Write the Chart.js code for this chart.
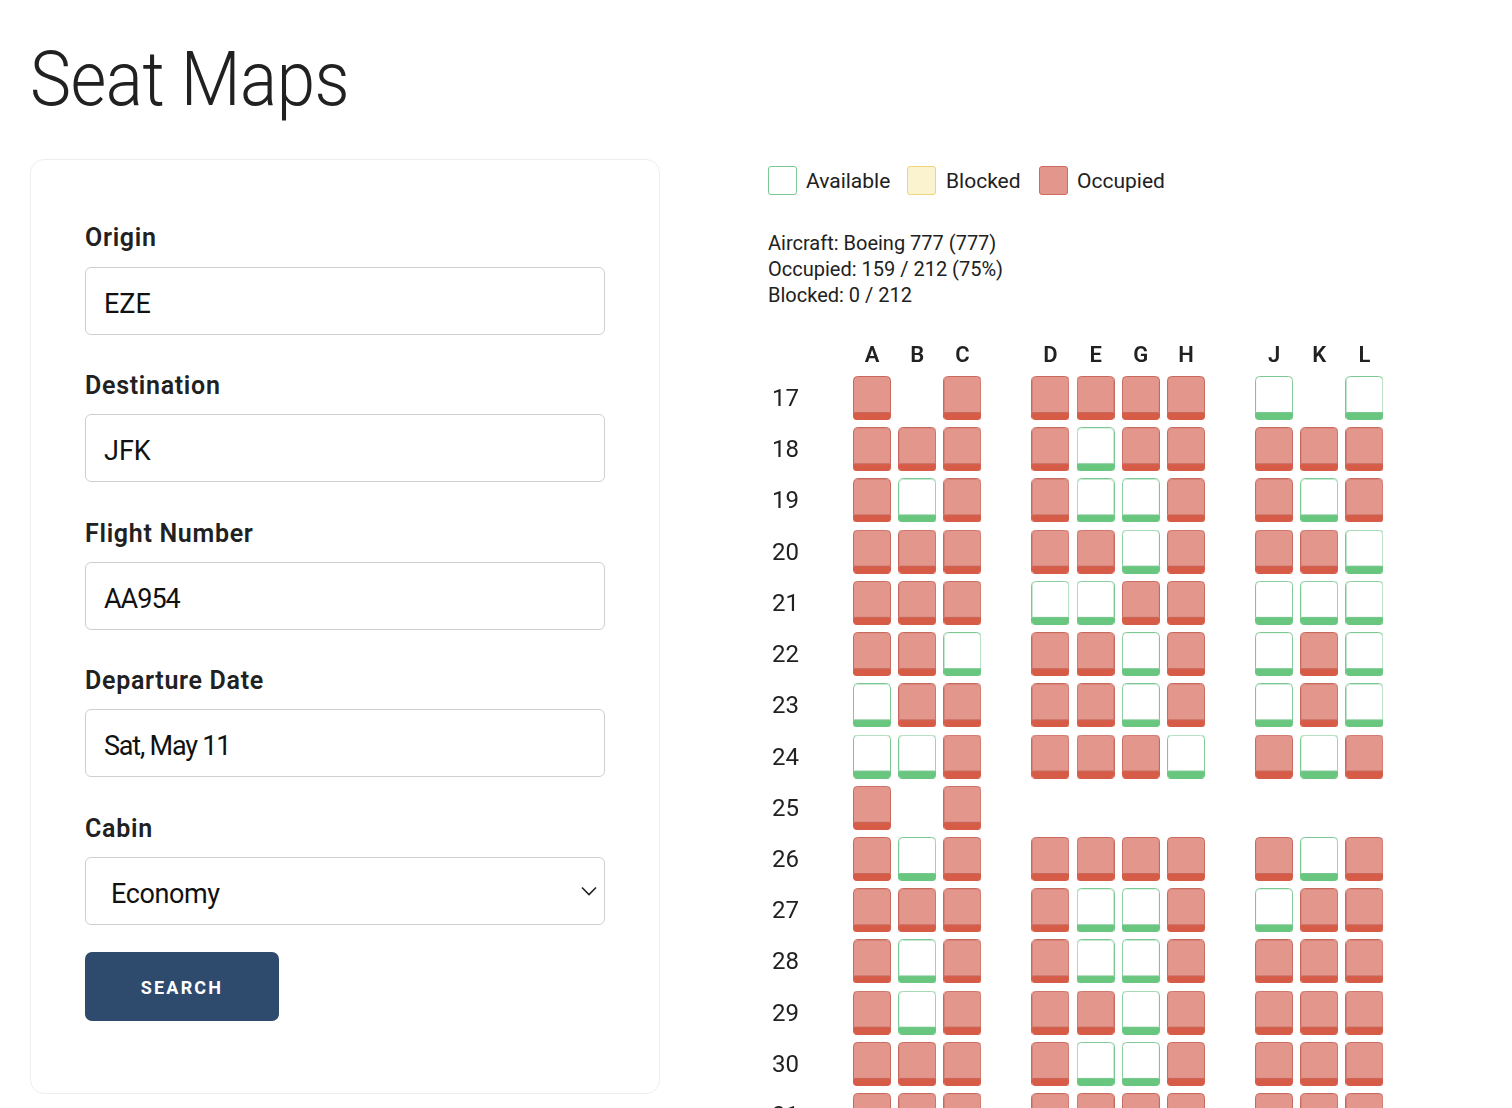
<!DOCTYPE html>
<html>

<head>
  <title>Seat Maps</title>
  <script src="https://cdn.jsdelivr.net/npm/chart.js"></script>
  <style>
    html, body {
      margin: 0;
      width: 1512px;
      height: 1108px;
      overflow: hidden;
      background: #fff;
      color: #212121;
      font-family: Roboto, sans-serif;
    }

    .abs { position: absolute; white-space: nowrap; }

    h1 {
      position: absolute;
      left: 30px;
      top: 34px;
      margin: 0;
      font-size: 76px;
      line-height: 90px;
      font-weight: 300;
      letter-spacing: -0.5px;
      transform: scaleX(0.91);
      transform-origin: left center;
    }

    .card {
      position: absolute;
      left: 30px;
      top: 159px;
      width: 628px;
      height: 933px;
      border: 1px solid #eeeeee;
      border-radius: 14px;
    }

    .label {
      position: absolute;
      left: 85px;
      font-size: 25px;
      line-height: 30px;
      font-weight: 600;
      letter-spacing: 0.7px;
    }

    .field {
      position: absolute;
      left: 85px;
      width: 518px;
      height: 66px;
      border: 1px solid #cfcfcf;
      border-radius: 6px;
      font-size: 27px;
      line-height: 72px;
      text-indent: 18px;
      color: #111;
    }

    .search {
      position: absolute;
      left: 85px;
      top: 952px;
      width: 194px;
      height: 69px;
      border-radius: 7px;
      background: #2e4a6d;
      color: #fff;
      font-size: 18px;
      font-weight: 700;
      letter-spacing: 2.2px;
      line-height: 72px;
      text-align: center;
    }

    .swatch {
      position: absolute;
      top: 166px;
      width: 27px;
      height: 27px;
      border: 1px solid;
      border-radius: 3px;
    }

    .legend-text {
      position: absolute;
      top: 168px;
      font-size: 21px;
      line-height: 26px;
    }

    .stats {
      position: absolute;
      left: 768px;
      top: 230px;
      font-size: 20px;
      line-height: 26px;
      white-space: nowrap;
    }

    #seatChart {
      position: absolute;
      left: 760px;
      top: 330px;
    }
  </style>
</head>

<body>
  <h1>Seat Maps</h1>

  <div class="card"></div>
  <div class="label" style="top: 223px">Origin</div>
  <div class="field" style="top: 267px">EZE</div>
  <div class="label" style="top: 371px">Destination</div>
  <div class="field" style="top: 414px">JFK</div>
  <div class="label" style="top: 519px">Flight Number</div>
  <div class="field" style="top: 562px; letter-spacing: -1px">AA954</div>
  <div class="label" style="top: 666px">Departure Date</div>
  <div class="field" style="top: 709px; letter-spacing: -1.2px">Sat, May 11</div>
  <div class="label" style="top: 814px">Cabin</div>
  <div class="field" style="top: 857px; text-indent: 25px; letter-spacing: -0.4px">Economy
    <svg class="abs" style="left: 494px; top: 28px" width="18" height="11" viewBox="0 0 18 11">
      <path d="M2 1.5 L9 8.5 L16 1.5" fill="none" stroke="#222" stroke-width="1.6" />
    </svg>
  </div>
  <div class="search">SEARCH</div>

  <div class="swatch" style="left: 768px; background: #fff; border-color: #7cc893"></div>
  <div class="legend-text" style="left: 806px">Available</div>
  <div class="swatch" style="left: 907px; background: #fbf3d0; border-color: #efd47a"></div>
  <div class="legend-text" style="left: 946px">Blocked</div>
  <div class="swatch" style="left: 1039px; background: #e3968b; border-color: #cf6a5c"></div>
  <div class="legend-text" style="left: 1077px">Occupied</div>

  <div class="stats">
    Aircraft: Boeing 777 (777)<br>
    Occupied: 159 / 212 (75%)<br>
    Blocked: 0 / 212
  </div>

  <canvas id="seatChart" width="640" height="860"></canvas>

  <script>
    // seat columns and rows
    const columnLabels = ['A', 'B', 'C', 'D', 'E', 'G', 'H', 'J', 'K', 'L'];
    const rowLabels = [17, 18, 19, 20, 21, 22, 23, 24, 25, 26, 27, 28, 29, 30, 31];

    // one string per row, one letter per column: O occupied, F free, . no seat
    const seatRows = [
      'O.OOOOOF.F',
      'OOOOFOOOOO',
      'OFOOFFOOFO',
      'OOOOOFOOOF',
      'OOOFFOOFFF',
      'OOFOOFOFOF',
      'FOOOOFOFOF',
      'FFOOOOFOFO',
      'O.O.......',
      'OFOOOOOOFO',
      'OOOOFFOFOO',
      'OFOOFFOOOO',
      'OFOOOFOOOO',
      'OOOOFFOOOO',
      'OOOOOOOOOO'
    ];

    // aisle width in seat widths
    const AISLE = 0.947;

    function columnX(i) {
      return i + (i >= 3 ? AISLE : 0) + (i >= 7 ? AISLE : 0);
    }

    // the seat mark: body, border and the darker strip at the bottom
    function seatImage(fill, border, strip) {
      const w = 38, h = 44, r = 4;
      const c = document.createElement('canvas');
      c.width = w;
      c.height = h;
      const g = c.getContext('2d');
      g.beginPath();
      g.roundRect(0.5, 0.5, w - 1, h - 1, r);
      g.fillStyle = fill;
      g.fill();
      g.save();
      g.beginPath();
      g.roundRect(0, 0, w, h, r);
      g.clip();
      g.fillStyle = strip;
      g.fillRect(0, h - 7, w, 7);
      g.restore();
      g.beginPath();
      g.roundRect(0.5, 0.5, w - 1, h - 8, [r, r, 0, 0]);
      g.strokeStyle = border;
      g.lineWidth = 1;
      g.stroke();
      return c;
    }

    function seatsOf(letter) {
      const seats = [];
      seatRows.forEach((seats_in_row, r) => {
        columnLabels.forEach((col, c) => {
          if (seats_in_row[c] === letter) {
            seats.push({ x: columnX(c), y: rowLabels[r] });
          }
        });
      });
      return seats;
    }

    const fixedTicks = (values) => (scale) => {
      scale.ticks = values.map(v => ({ value: v }));
    };

    new Chart(document.getElementById('seatChart').getContext('2d'), {
      type: 'scatter',
      data: {
        datasets: [
          {
            label: 'Occupied',
            data: seatsOf('O'),
            pointStyle: seatImage('#e3968b', '#c8695d', '#d75c47')
          },
          {
            label: 'Available',
            data: seatsOf('F'),
            pointStyle: seatImage('#ffffff', '#7cc893', '#69c67f')
          }
        ]
      },
      options: {
        responsive: false,
        animation: false,
        plugins: {
          legend: { display: false },
          tooltip: { enabled: false }
        },
        layout: { padding: 0 },
        scales: {
          x: {
            type: 'linear',
            position: 'top',
            min: -1.15,
            max: 11.57,
            afterBuildTicks: fixedTicks(columnLabels.map((l, i) => columnX(i))),
            afterFit: (scale) => { scale.height = 40; },
            grid: { display: false, drawTicks: false },
            border: { display: false },
            ticks: {
              autoSkip: false,
              maxRotation: 0,
              padding: 0,
              color: '#212121',
              font: { family: 'Roboto', size: 22, weight: '600' },
              callback: (v, i) => columnLabels[i]
            }
          },
          y: {
            type: 'linear',
            reverse: true,
            min: 16.454,
            max: 31.771,
            afterBuildTicks: fixedTicks(rowLabels),
            afterFit: (scale) => { scale.width = 60; },
            grid: { display: false, drawTicks: false },
            border: { display: false },
            ticks: {
              autoSkip: false,
              crossAlign: 'center',
              padding: 21,
              labelOffset: 2,
              color: '#212121',
              font: { family: 'Roboto', size: 24, weight: '400' },
              callback: (v, i) => rowLabels[i]
            }
          }
        }
      }
    });
  </script>
</body>

</html>
